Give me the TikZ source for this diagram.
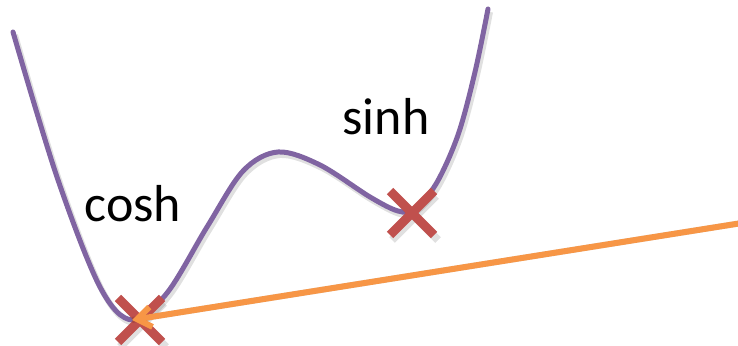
\documentclass[tikz,border=0pt]{standalone}
\usepackage{fontspec}
\setmainfont{Carlito}
\usepackage{tikz}
\usetikzlibrary{arrows.meta}

\definecolor{curvepurple}{HTML}{8064A2}
\definecolor{crossred}{HTML}{C0504D}
\definecolor{steporange}{HTML}{F79646}

\begin{document}
\begin{tikzpicture}[x=0.5pt, y=-0.5pt, every node/.style={font=\fontsize{26}{30}\selectfont}, curve/.style={curvepurple,line width=2.5pt,line cap=round}, shade line/.style={black,opacity=0.12,line width=3pt}, cross/.style={crossred,line width=4.5pt}, arr/.style={steporange,line width=3pt,-{Straight Barb[length=7pt,width=10pt,line width=3pt]}}]
\useasboundingbox (0,0) rectangle (738,346);
% energy landscape
\def\landscape{(13,32) (57,177) (100,287) (132,320) (167,293) (207,227) (243,171) (278,152) (320,165) (370,197) (398,211) (414,209) (436,184) (458,135) (475,72) (488,9)}
\draw[shade line,shift={(2,3)}] plot[smooth,tension=0.55] coordinates {\landscape};
\draw[curve] plot[smooth,tension=0.55] coordinates {\landscape};
\node[anchor=base] (cosh) at (133,222) {cosh};
\node[anchor=base] (sinh) at (386,135) {sinh};
% minima
\coordinate (coshmin) at (140,320);
\coordinate (sinhmin) at (412,213);
\coordinate (start) at (742,223);
\coordinate (tip) at (132,320);
\foreach \m in {coshmin,sinhmin}{
  \draw[shade line,line width=4pt] ([shift={(-20,-20)}]\m) ++(2,3) -- ++(44,44);
  \draw[shade line,line width=4pt] ([shift={(22,-20)}]\m) ++(2,3) -- ++(-44,44);
  \draw[cross] ([shift={(-22,-22)}]\m) -- ([shift={(22,22)}]\m);
  \draw[cross] ([shift={(22,-22)}]\m) -- ([shift={(-22,22)}]\m);
}
\draw[shade line,shift={(2,3)}] (start) -- (tip);
\draw[arr] (start) -- (tip);
\end{tikzpicture}
\end{document}
